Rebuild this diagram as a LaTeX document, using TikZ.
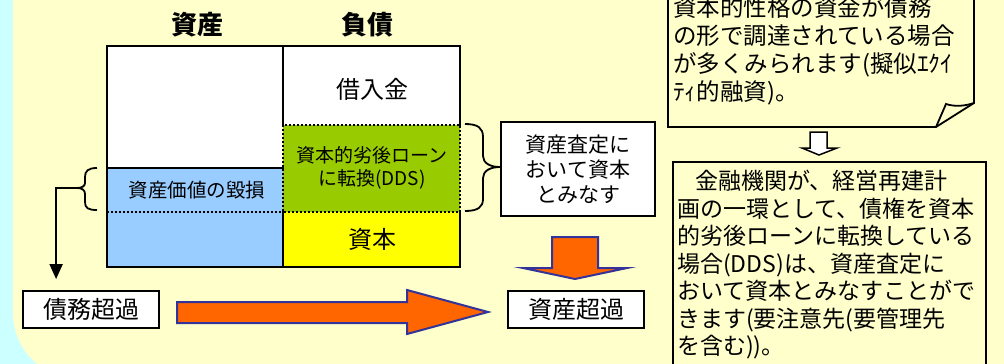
\documentclass[tikz,border=0pt]{standalone}
\usepackage{fontspec}
\setmainfont{Noto Sans CJK JP}
\usetikzlibrary{arrows.meta,calc}
\definecolor{bgcyan}{HTML}{CCFFFF}
\definecolor{bgyellow}{HTML}{FFFFCC}
\definecolor{cellblue}{HTML}{99CCFF}
\definecolor{cellgreen}{HTML}{99CC00}
\definecolor{cellyellow}{HTML}{FFFF00}
\definecolor{arroworange}{HTML}{FF6600}
\definecolor{arrowblue}{HTML}{333399}
\begin{document}
\begin{tikzpicture}[x=1pt,y=-1pt,
  cell/.style={draw=none,inner sep=0pt,outer sep=0pt},
  tline/.style={line width=2pt,line cap=rect},
  dotline/.style={line width=2pt,dash pattern=on 2pt off 2pt},
  jbox/.style={draw=black,fill=white,line width=1.8pt,inner sep=0pt},
  hdr/.style={inner sep=0pt,font=\fontsize{26}{30}\selectfont\bfseries},
  lbl/.style={inner sep=0pt},
  blockarrow/.style={fill=arroworange,draw=arrowblue,line width=2pt,line join=miter},
  bracepath/.style={line width=1.8pt},
  txtblock/.style={inner sep=0pt,align=left,anchor=north west,font=\fontsize{23}{27.5}\selectfont}]
\useasboundingbox (0,0) rectangle (1004,364);
\clip (0,0) rectangle (1004,364);
\fill[bgcyan] (0,0) rectangle (1004,364);
\fill[bgyellow,rounded corners=66pt] (13,-200) rectangle (1200,379);

% headers
\node[hdr] (hA) at (197,25) {資産};
\node[hdr] (hL) at (367,25) {負債};

% cells
\node[cell,fill=white,minimum width=176pt,minimum height=122pt] (LW) at (195,107) {};
\node[cell,fill=cellblue,minimum width=176pt,minimum height=99pt] (LB) at (195,217.5) {};
\node[cell,fill=white,minimum width=177pt,minimum height=79pt] (RW) at (371.5,85.5) {};
\node[cell,fill=cellgreen,minimum width=177pt,minimum height=87pt] (RG) at (371.5,168.5) {};
\node[cell,fill=cellyellow,minimum width=177pt,minimum height=55pt] (RY) at (371.5,239.5) {};

% labels
\node[lbl,font=\fontsize{24}{28}\selectfont] (tBorrow) at (372,89) {借入金};
\node[lbl,align=center,font=\fontsize{19}{23}\selectfont] (tDDS) at (372,168) {資本的劣後ローン\\に転換(DDS)};
\node[lbl,font=\fontsize{24}{28}\selectfont] (tCap) at (372,239) {資本};
\node[lbl,font=\fontsize{19.5}{23}\selectfont] (tDmg) at (197,190) {資産価値の毀損};

% table lines
\draw[tline] (LW.north west) -- (RW.north east) -- (RW.south east);
\draw[tline] (RY.north east) -- (RY.south east) -- (LB.south west) -- (LW.north west);
\draw[tline] (RW.north west) -- (RW.south west);
\draw[tline] (RY.north west) -- (RY.south west);
\draw[tline] (LW.south west) -- (LW.south east);
\draw[dotline] (RG.north west) rectangle (RG.south east);
\draw[dotline] (LB.west |- RG.south) -- (RG.south west);

% left brace and arrow
\coordinate (lbtip) at (77,188);
\draw[bracepath] (97,168) .. controls (88,168) and (85,171) .. (85,177) -- (85,183)
  .. controls (85,186) and (82,188) .. (lbtip)
  .. controls (82,188) and (85,190) .. (85,194) -- (85,202)
  .. controls (85,208) and (88,210) .. (97,210);

% right brace
\coordinate (rbtip) at (500,167);
\draw[bracepath] (465,124) .. controls (478,124) and (483,128) .. (483,137) -- (483,156)
  .. controls (483,163) and (490,167) .. (rbtip)
  .. controls (490,167) and (483,171) .. (483,178) -- (483,199)
  .. controls (483,207) and (478,211) .. (465,211);

% boxes
\node[jbox,minimum width=154pt,minimum height=94pt,align=center,font=\fontsize{21}{25}\selectfont] (capbox) at (578,169) {資産査定に\\おいて資本\\とみなす};
\node[jbox,minimum width=136pt,minimum height=37pt,font=\fontsize{24}{28}\selectfont] (excess) at (576,309.5) {資産超過};
\node[jbox,minimum width=136pt,minimum height=37pt,font=\fontsize{24}{28}\selectfont] (debt) at (91,309.5) {債務超過};

\draw[line width=1.8pt,-{Triangle[width=13pt,length=15pt]}] (lbtip) -| ($(debt.north west)+(34,-11)$);

% block arrows
\draw[blockarrow] (177,302) -- (407,302) -- (407,290) -- (488,312) -- (407,334) -- (407,323) -- (177,323) -- cycle;
\draw[blockarrow] (552,237) -- (598,237) -- (598,268) -- (627,268) -- (575,279) -- (523,268) -- (552,268) -- cycle;

% callout
\draw[fill=bgyellow,line width=1.8pt,line join=miter] (668,-10) -- (974,-10) -- (974,103) -- (936,127) -- (668,127) -- cycle;
\draw[line width=1.8pt,line join=miter] (936,127) -- (946,104) .. controls (955,107) and (965,106) .. (974,103);
\node[txtblock,font=\fontsize{23.5}{28}\selectfont] (ctext) at (673,-4) {資本的性格の資金が債務\\の形で調達されている場合\\が多くみられます(擬似ｴｸｲ\\ﾃｨ的融資)。};

% small white arrow
\draw[fill=white,line width=1.5pt,line join=miter] (810,132) -- (827,132) -- (827,148) -- (837,148) -- (819,155) -- (802,148) -- (810,148) -- cycle;

% bottom-right box
\node[draw=black,fill=bgyellow,line width=1.8pt,inner sep=0pt,minimum width=313pt,minimum height=230pt,anchor=north west] (ddsbox) at (672,161) {};
\node[txtblock] (ddstext) at (677,170) {\hspace*{18pt}金融機関が、経営再建計\\画の一環として、債権を資本\\的劣後ローンに転換している\\場合(DDS)は、資産査定に\\おいて資本とみなすことがで\\きます(要注意先(要管理先\\を含む))。};
\end{tikzpicture}
\end{document}
